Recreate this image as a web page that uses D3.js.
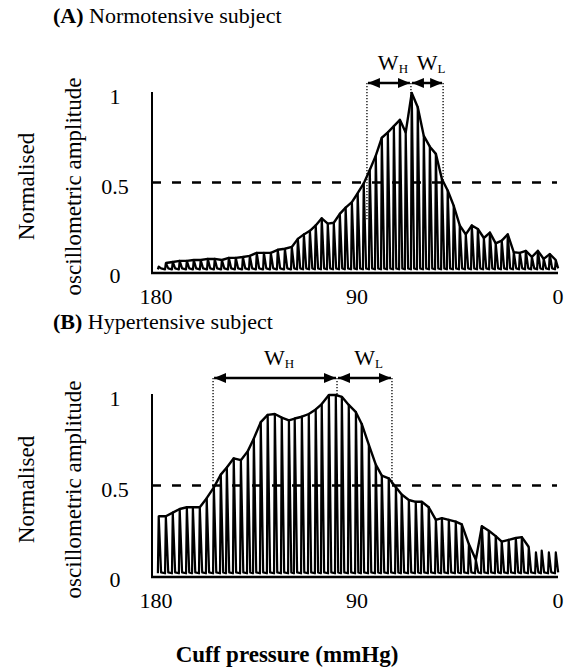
<!DOCTYPE html>
<html>
<head>
<meta charset="utf-8">
<script src="https://cdn.jsdelivr.net/npm/d3@7"></script>
<style>
body { margin: 0; background: #fff; }
svg text { font-family: "Liberation Serif", "Times New Roman", serif; fill: #000; }
</style>
</head>
<body>
<svg id="chart"></svg>
<script>
var width = 565;
var height = 671;

// pulse positions (cuff pressure, mmHg) and normalised peak amplitude of each pulse
var pressureA = [178.7,175.5,172.4,169.3,166.1,163.0,159.9,156.7,153.6,150.4,147.3,144.2,141.0,137.9,134.8,131.6,
    128.5,125.4,122.2,119.1,116.4,113.7,111.0,108.4,105.7,103.0,100.3,97.6,95.0,92.2,89.6,86.9,84.2,81.5,78.8,76.1,
    73.4,70.7,68.1,65.4,62.7,60.0,57.3,54.6,51.9,49.3,46.6,43.9,41.2,38.5,35.8,33.1,30.4,27.8,25.1,22.4,19.7,17.0,
    14.3,11.6,8.9,6.3,3.6,0.9];
var ampA = [0.03,0.05,0.056,0.062,0.062,0.067,0.067,0.073,0.073,0.067,0.079,0.079,0.084,0.09,0.107,0.107,
    0.107,0.124,0.13,0.14,0.185,0.21,0.23,0.26,0.30,0.27,0.275,0.325,0.36,0.39,0.44,0.495,0.57,0.65,0.75,0.78,
    0.815,0.85,0.78,1.0,0.92,0.76,0.70,0.66,0.52,0.455,0.37,0.26,0.21,0.26,0.24,0.19,0.22,0.16,0.175,0.21,0.11,0.107,
    0.118,0.084,0.118,0.073,0.10,0.067];

var pressureB = [178.7,175.5,172.4,169.3,166.1,163.4,160.3,157.2,154.0,150.9,148.2,145.1,141.9,138.8,136.1,133.0,
    129.9,126.7,123.6,120.4,117.8,114.6,111.5,108.4,105.7,102.5,99.4,96.7,93.6,90.4,87.8,84.6,81.5,78.8,75.7,72.5,
    69.9,66.7,63.6,60.9,57.8,54.6,51.9,48.8,45.7,43.0,39.8,36.7,34.0,30.9,27.8,25.1,22.0,18.8,16.1,13.0,9.8,7.2,4.0,0.9];
var ampB = [0.33,0.33,0.35,0.37,0.38,0.38,0.38,0.43,0.49,0.56,0.60,0.65,0.64,0.69,0.76,0.85,0.89,0.895,0.875,0.86,
    0.87,0.88,0.895,0.92,0.95,1.0,1.0,0.99,0.945,0.905,0.84,0.725,0.615,0.555,0.54,0.49,0.45,0.42,0.41,0.41,
    0.38,0.31,0.32,0.31,0.30,0.285,0.175,0.09,0.275,0.25,0.22,0.19,0.20,0.21,0.215,0.16,0.13,0.14,0.13,0.13];

// envelope is only traced between these pressures
var envelopeA = [176, 0];
var envelopeB = [180, 12];

// start of W_H, peak, end of W_L (mmHg) and the amplitude where each dotted guide stops
var widthPressA = [85.1, 65.4, 51.0];
var guideAmpA = [0.29, 0.97, 0.5];
var widthPressB = [154.0, 98.5, 73.9];
var guideAmpB = [0.52, 1.0, 0.5];

var xTicks = [180, 90, 0];
var yTicks = [0, 0.5, 1];

var x = d3.scaleLinear()
    .domain([180, 0])
    .range([155, 557]);

var svg = d3.select("#chart")
    .attr("width", width)
    .attr("height", height);

var defs = svg.append("defs");
defs.append("marker")
    .attr("id", "head")
    .attr("markerUnits", "userSpaceOnUse")
    .attr("markerWidth", 13)
    .attr("markerHeight", 11)
    .attr("refX", 12)
    .attr("refY", 5)
    .attr("orient", "auto-start-reverse")
    .append("path")
    .attr("d", "M0,0 L12,5 L0,10 Z")
    .attr("fill", "#000");

function drawPanel(opt) {
    var y = d3.scaleLinear()
        .domain([0, 1])
        .range(opt.yRange);

    var g = svg.append("g");

    // title
    var t = g.append("text")
        .attr("x", 53)
        .attr("y", opt.titleY)
        .style("font-size", "22px");
    t.append("tspan").attr("font-weight", "bold").text(opt.letter);
    t.append("tspan").text(" " + opt.title);

    // y label, two lines
    var cy = (y(0) + y(1)) / 2 + 4;
    g.append("text")
        .attr("transform", "translate(34," + cy + ") rotate(-90)")
        .attr("text-anchor", "middle")
        .style("font-size", "23px")
        .text("Normalised");
    g.append("text")
        .attr("transform", "translate(81," + cy + ") rotate(-90)")
        .attr("text-anchor", "middle")
        .style("font-size", "23px")
        .text("oscillometric amplitude");

    // tick labels
    g.selectAll(".ytick")
        .data(yTicks)
        .enter().append("text")
        .attr("class", "ytick")
        .attr("x", 115)
        .attr("y", function(d) { return y(d) + 11; })
        .attr("text-anchor", "middle")
        .style("font-size", "22px")
        .text(function(d) { return d; });

    g.selectAll(".xtick")
        .data(xTicks)
        .enter().append("text")
        .attr("class", "xtick")
        .attr("x", function(d) { return x(d) + 1; })
        .attr("y", y(0) + 32)
        .attr("text-anchor", "middle")
        .style("font-size", "22px")
        .text(function(d) { return d; });

    // dashed half-amplitude line
    g.append("line")
        .attr("x1", 152).attr("x2", 557)
        .attr("y1", y(0.5)).attr("y2", y(0.5))
        .attr("stroke", "#000")
        .attr("stroke-width", 2.5)
        .attr("stroke-dasharray", "9,11");

    // oscillation pulses
    var pts = [];
    opt.pressure.forEach(function(p, i) {
        var px = x(p);
        pts.push([px, y(0.015)]);
        pts.push([px + 0.8, y(opt.amp[i])]);
        pts.push([px + 3.2, y(0.02)]);
    });
    g.append("path")
        .attr("d", d3.line()(pts))
        .attr("fill", "none")
        .attr("stroke", "#000")
        .attr("stroke-width", 2.2)
        .attr("stroke-linejoin", "round");

    // envelope
    var env = [];
    opt.pressure.forEach(function(p, i) {
        if (p <= opt.envelope[0] && p >= opt.envelope[1]) env.push([x(p) + 0.8, y(opt.amp[i])]);
    });
    g.append("path")
        .attr("d", d3.line()(env))
        .attr("fill", "none")
        .attr("stroke", "#000")
        .attr("stroke-width", 2.4)
        .attr("stroke-linejoin", "round");

    // axes
    g.append("line")
        .attr("x1", 152).attr("x2", 152)
        .attr("y1", y(1) - 1).attr("y2", y(0) + 2)
        .attr("stroke", "#000").attr("stroke-width", 2);
    g.append("line")
        .attr("x1", 151).attr("x2", 558)
        .attr("y1", y(0) + 1).attr("y2", y(0) + 1)
        .attr("stroke", "#000").attr("stroke-width", 2.5);

    // W_H / W_L guides
    var arrowY = opt.arrowY;
    g.selectAll(".guide")
        .data(opt.widthPress)
        .enter().append("line")
        .attr("class", "guide")
        .attr("x1", function(d) { return x(d); })
        .attr("x2", function(d) { return x(d); })
        .attr("y1", arrowY)
        .attr("y2", function(d, i) { return y(opt.guideAmp[i]); })
        .attr("stroke", "#000")
        .attr("stroke-width", 1.3)
        .attr("stroke-dasharray", "1.3,1.7");

    var spans = [[opt.widthPress[0], opt.widthPress[1], "H"], [opt.widthPress[1], opt.widthPress[2], "L"]];
    spans.forEach(function(s) {
        g.append("line")
            .attr("x1", x(s[0]) + 1).attr("x2", x(s[1]) - 1)
            .attr("y1", arrowY).attr("y2", arrowY)
            .attr("stroke", "#000")
            .attr("stroke-width", 2.5)
            .attr("marker-start", "url(#head)")
            .attr("marker-end", "url(#head)");
        var lab = g.append("text")
            .attr("x", (x(s[0]) + x(s[1])) / 2 + 4)
            .attr("y", arrowY - 13)
            .attr("text-anchor", "middle")
            .style("font-size", "22px");
        lab.append("tspan").text("W");
        lab.append("tspan").attr("dy", 3).style("font-size", "13px").text(s[2]);
    });
}

drawPanel({
    letter: "(A)", title: "Normotensive subject", titleY: 23,
    yRange: [272, 93], arrowY: 83,
    pressure: pressureA, amp: ampA, envelope: envelopeA,
    widthPress: widthPressA, guideAmp: guideAmpA
});

drawPanel({
    letter: "(B)", title: "Hypertensive subject", titleY: 329,
    yRange: [576, 395], arrowY: 378,
    pressure: pressureB, amp: ampB, envelope: envelopeB,
    widthPress: widthPressB, guideAmp: guideAmpB
});

// shared x label
svg.append("text")
    .attr("x", 287)
    .attr("y", 662)
    .attr("text-anchor", "middle")
    .attr("font-weight", "bold")
    .style("font-size", "23px")
    .text("Cuff pressure (mmHg)");
</script>
</body>
</html>
